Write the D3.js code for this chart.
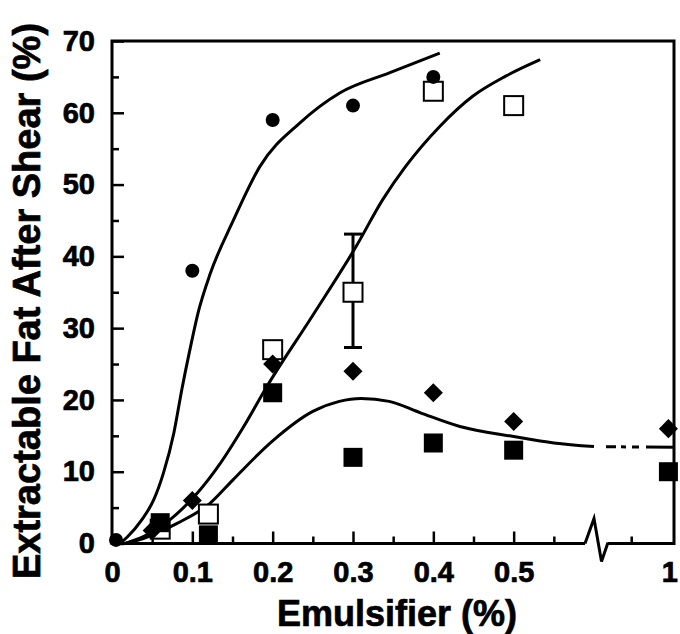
<!DOCTYPE html>
<meta charset="utf-8">
<html>
  <head>
    <style>
     body { margin: 0; background: #fff; }

     text.tick-label {
       font-family: "Liberation Sans", Arial, sans-serif;
       font-weight: bold;
       font-size: 29px;
       fill: #000;
       stroke: #000;
       stroke-width: 0.7px;
     }

     text.axis-title {
       font-family: "Liberation Sans", Arial, sans-serif;
       font-weight: bold;
       font-size: 36px;
       fill: #000;
       stroke: #000;
       stroke-width: 0.7px;
     }

     path.fit {
       fill: none;
       stroke: #000;
       stroke-width: 3px;
     }

     .frame {
       fill: none;
       stroke: #000;
       stroke-width: 3px;
     }
    </style>
    <script src="https://d3js.org/d3.v7.min.js"></script>
  </head>
  <body>
    <div id="chart"></div>
    <script type="text/javascript">
     var width = 680,
         height = 634;

     // measured points
     var circleX = [0.005, 0.1, 0.2, 0.3, 0.4],
         circleY = [0.5, 38, 59, 61, 65];

     var openSqX = [0.06, 0.12, 0.2, 0.3, 0.4, 0.5],
         openSqY = [2.0, 4.1, 27, 35, 63, 61];

     // error bar on the open square at 0.3
     var errX = [0.3],
         errLow = [27.3],
         errHigh = [43.1];

     var diamondX = [0.05, 0.1, 0.2, 0.3, 0.4, 0.5, 1],
         diamondY = [1.8, 6, 25, 24, 21, 17, 16];

     var fillSqX = [0.06, 0.12, 0.2, 0.3, 0.4, 0.5, 1],
         fillSqY = [2.9, 1.2, 21, 12, 14, 13, 10];

     // fitted curves
     var fitAX = [0.01, 0.019, 0.037, 0.052, 0.064, 0.077, 0.087, 0.097, 0.108, 0.122, 0.151, 0.184, 0.234, 0.284, 0.346, 0.408],
         fitAY = [0, 0.9, 3.3, 6.1, 9.8, 15.4, 21.5, 27, 32.5, 37.5, 45, 52.5, 58.6, 62.8, 65.6, 68.3];

     var fitBX = [0.0165, 0.039, 0.072, 0.106, 0.135, 0.164, 0.193, 0.25, 0.304, 0.337, 0.366, 0.408, 0.449, 0.49, 0.533],
         fitBY = [0, 0.95, 3.3, 7.0, 11.2, 16.3, 21.9, 31.8, 41.4, 47.9, 52.6, 58.1, 62.3, 65.1, 67.4];

     var fitCX = [0.0165, 0.039, 0.081, 0.122, 0.15, 0.2, 0.25, 0.283, 0.31, 0.345, 0.384, 0.433, 0.5, 0.55, 0.6],
         fitCY = [0, 0.7, 2.8, 5.6, 8.8, 14.3, 18.4, 19.8, 20.2, 19.8, 18.2, 16.3, 14.9, 14.0, 13.5];

     // dashed continuation past the axis break
     var tailX = [0.6, 1.03],
         tailY = [13.5, 13.4];

     // axis ticks
     var xLabelTicks = [0, 0.1, 0.2, 0.3, 0.4, 0.5, 1],
         xMajorTicks = [0.1, 0.2, 0.3, 0.4, 0.5],
         xMinorTicks = [0.05, 0.15, 0.25, 0.35, 0.45, 0.55, 0.8],
         yMajorTicks = [0, 10, 20, 30, 40, 50, 60, 70],
         yMinorTicks = [5, 15, 25, 35, 45, 55, 65],
         xBreak = 0.6;

     var svg = d3.select("#chart").append("svg")
                 .attr("width", width)
                 .attr("height", height);

     // piecewise x scale, compressed after the break
     var x = d3.scaleLinear()
               .domain([0, xBreak, 1.03])
               .range([112, 594, 674]);

     var y = d3.scaleLinear()
               .domain([0, 70])
               .range([543.5, 41]);

     function pts(xs, ys) {
       return xs.map(function (d, i) { return [d, ys[i]]; });
     }

     var line = d3.line()
                  .x(function (d) { return x(d[0]); })
                  .y(function (d) { return y(d[1]); })
                  .curve(d3.curveMonotoneX);

     // ---- axes ----
     var yMajor = d3.axisLeft(y).tickValues(yMajorTicks).tickSize(-12).tickPadding(17);
     var yMinor = d3.axisLeft(y).tickValues(yMinorTicks).tickSize(-7).tickFormat("");

     svg.append("g")
        .attr("transform", "translate(" + x(0) + ",0)")
        .call(yMajor)
        .call(function (g) { g.select(".domain").remove(); });
     svg.append("g")
        .attr("transform", "translate(" + x(0) + ",0)")
        .call(yMinor)
        .call(function (g) { g.select(".domain").remove(); });

     var xMajor = d3.axisBottom(x).tickValues(xMajorTicks).tickSize(-12).tickFormat("");
     var xMinor = d3.axisBottom(x).tickValues(xMinorTicks).tickSize(-7).tickFormat("");
     var xLabels = d3.axisBottom(x).tickValues(xLabelTicks).tickSize(0).tickPadding(18)
                     .tickFormat(function (d) { return d === 0 || d === 1 ? String(d) : d3.format(".1f")(d); });

     [xMajor, xMinor, xLabels].forEach(function (ax) {
       svg.append("g")
          .attr("transform", "translate(0," + y(0) + ")")
          .call(ax)
          .call(function (g) { g.select(".domain").remove(); });
     });

     svg.selectAll(".tick line").attr("stroke-width", 2.5);
     svg.selectAll(".tick text").attr("class", "tick-label");
     svg.selectAll(".tick text")
        .filter(function (d) { return d === 1; })
        .attr("dx", 1);

     // frame: left, top, right, and bottom with a break
     var xb = x(xBreak), y0 = y(0);
     svg.append("path")
        .attr("class", "frame")
        .attr("d", "M" + (xb - 9) + "," + y0 + "H" + x(0) + "V" + y(70) + "H" + x(1.03) + "V" + y0 + "H" + (xb + 14));
     svg.append("path")
        .attr("class", "frame")
        .attr("stroke-width", 2.5)
        .attr("d", "M" + (xb - 9) + "," + y0 +
                   "L" + xb + "," + (y0 - 25) +
                   "L" + (xb + 7.5) + "," + (y0 + 18) +
                   "L" + (xb + 14) + "," + (y0 - 1));

     // ---- fitted curves ----
     [pts(fitAX, fitAY), pts(fitBX, fitBY), pts(fitCX, fitCY)].forEach(function (p) {
       svg.append("path").attr("class", "fit").attr("d", line(p));
     });
     svg.append("path")
        .attr("class", "fit")
        .style("stroke-dasharray", "0,12,10,5,5,6,7,7,200")
        .attr("d", d3.line().x(function (d) { return x(d[0]); }).y(function (d) { return y(d[1]); })(pts(tailX, tailY)));

     // ---- error bar ----
     var eb = svg.selectAll(".errbar")
                 .data(errX)
                 .enter().append("g")
                 .attr("class", "errbar")
                 .attr("stroke", "#000")
                 .attr("stroke-width", 3);
     eb.append("line")
       .attr("x1", function (d) { return x(d); })
       .attr("x2", function (d) { return x(d); })
       .attr("y1", function (d, i) { return y(errLow[i]); })
       .attr("y2", function (d, i) { return y(errHigh[i]); });
     eb.append("line")
       .attr("x1", function (d) { return x(d) - 9; })
       .attr("x2", function (d) { return x(d) + 9; })
       .attr("y1", function (d, i) { return y(errLow[i]); })
       .attr("y2", function (d, i) { return y(errLow[i]); });
     eb.append("line")
       .attr("x1", function (d) { return x(d) - 9; })
       .attr("x2", function (d) { return x(d) + 9; })
       .attr("y1", function (d, i) { return y(errHigh[i]); })
       .attr("y2", function (d, i) { return y(errHigh[i]); });

     // ---- markers ----
     var sq = 19;
     svg.selectAll(".open-sq")
        .data(pts(openSqX, openSqY))
        .enter().append("rect")
        .attr("class", "open-sq")
        .attr("x", function (d) { return x(d[0]) - sq / 2; })
        .attr("y", function (d) { return y(d[1]) - sq / 2; })
        .attr("width", sq)
        .attr("height", sq)
        .attr("fill", "#fff")
        .attr("stroke", "#000")
        .attr("stroke-width", 2);

     svg.selectAll(".diamond")
        .data(pts(diamondX, diamondY))
        .enter().append("path")
        .attr("class", "diamond")
        .attr("d", d3.symbol(d3.symbolSquare, 182))
        .attr("transform", function (d) { return "translate(" + x(d[0]) + "," + y(d[1]) + ") rotate(45)"; })
        .attr("fill", "#000");

     svg.selectAll(".fill-sq")
        .data(pts(fillSqX, fillSqY))
        .enter().append("rect")
        .attr("class", "fill-sq")
        .attr("x", function (d) { return x(d[0]) - sq / 2; })
        .attr("y", function (d) { return y(d[1]) - sq / 2; })
        .attr("width", sq)
        .attr("height", sq)
        .attr("fill", "#000");

     svg.selectAll(".dot")
        .data(pts(circleX, circleY))
        .enter().append("circle")
        .attr("class", "dot")
        .attr("cx", function (d) { return x(d[0]); })
        .attr("cy", function (d) { return y(d[1]); })
        .attr("r", 7)
        .attr("fill", "#000");

     // ---- axis titles ----
     svg.append("text")
        .attr("class", "axis-title")
        .attr("x", 397)
        .attr("y", 626)
        .style("text-anchor", "middle")
        .text("Emulsifier (%)");

     svg.append("text")
        .attr("class", "axis-title")
        .attr("transform", "translate(40,301) rotate(-90)")
        .style("text-anchor", "middle")
        .style("font-size", "38px")
        .text("Extractable Fat After Shear (%)");
    </script>
  </body>
</html>
